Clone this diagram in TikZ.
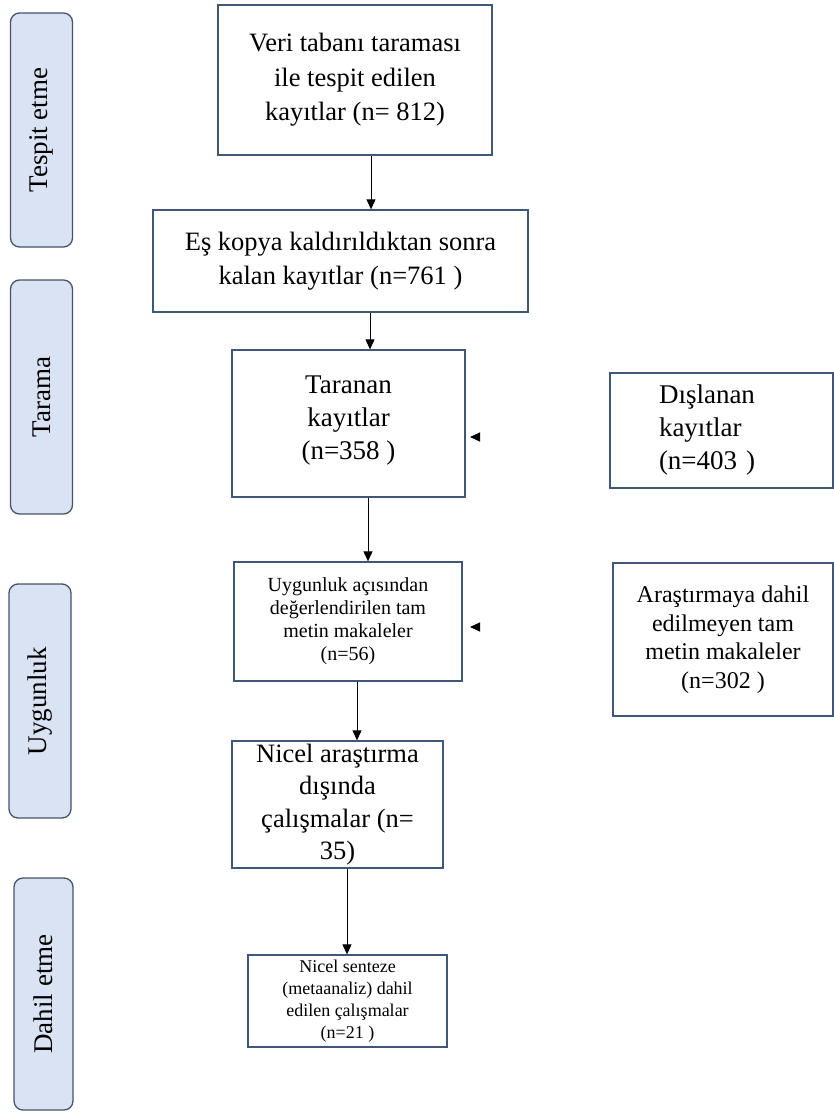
\documentclass[tikz,border=0pt]{standalone}
\usepackage{fontspec}
\setmainfont{Liberation Serif}
\usetikzlibrary{arrows.meta,positioning,calc}
\definecolor{prismaEdge}{HTML}{41577A}
\definecolor{prismaSide}{HTML}{DAE3F3}
\definecolor{prismaSideEdge}{HTML}{44546A}

\begin{document}
\begin{tikzpicture}[x=1pt,y=-1pt,
    box/.style={draw=prismaEdge,line width=1.3pt,fill=white,align=center,inner sep=1pt,
                font=\fontsize{26.5}{34.5}\selectfont},
    phase/.style={draw=prismaSideEdge,line width=1.3pt,fill=prismaSide,rounded corners=9pt,
                  rotate=90,minimum width=234pt,minimum height=62pt,
                  font=\fontsize{27}{30}\selectfont},
    arr/.style={-{Triangle[length=10pt,width=9pt]},line width=1pt,black}]
  \useasboundingbox (0,0) rectangle (834,1114);
  % phases on the left
  \node[phase] (pTespit) at (41.5,130) {Tespit etme};
  \node[phase] (pTarama) at (41.5,397) {Tarama};
  \node[phase] (pUygun)  at (40,701)   {Uygunluk};
  \node[phase,minimum width=232pt,minimum height=59pt] (pDahil) at (43.5,994) {Dahil etme};
  % main column
  \node[box,minimum width=274pt,minimum height=150pt] (veri) at (355,80)
    {Veri tabanı taraması\\ile tespit edilen\\kayıtlar (n= 812)};
  \node[box,minimum width=375pt,minimum height=102pt] (kopya) at (340.5,261)
    {Eş kopya kaldırıldıktan sonra\\kalan kayıtlar (n=761 )};
  \node[box,font=\fontsize{27}{33}\selectfont,minimum width=233pt,minimum height=147pt,
        text depth=12pt] (taranan) at (348.5,423.5) {Taranan\\kayıtlar\\(n=358 )};
  \node[box,font=\fontsize{20}{23}\selectfont,minimum width=228pt,minimum height=119pt]
    (uygun) at (348,621.5)
    {Uygunluk açısından\\değerlendirilen tam\\metin makaleler\\(n=56)};
  \node[box,font=\fontsize{26.5}{32.5}\selectfont,inner ysep=0pt,minimum width=211pt,
        minimum height=127pt] (nicel) at (337.5,804.5)
    {Nicel araştırma\\dışında\\çalışmalar (n=\\35)};
  \node[box,font=\fontsize{18}{22}\selectfont,minimum width=199pt,minimum height=92pt]
    (sentez) at (347.5,1001) {Nicel senteze\\(metaanaliz) dahil\\edilen çalışmalar\\(n=21 )};
  % excluded records
  \node[box,font=\fontsize{27}{33}\selectfont,align=left,text width=125pt,
        minimum width=223pt,minimum height=115pt] (disla) at (721.5,430.5)
    {Dışlanan\\kayıtlar\\(n=403 )};
  \node[box,font=\fontsize{24}{28.5}\selectfont,minimum width=220pt,minimum height=153pt]
    (arast) at (723,639.5) {Araştırmaya dahil\\edilmeyen tam\\metin makaleler\\(n=302 )};
  % arrows
  \draw[arr] ([xshift=16pt]veri.south) -- ([xshift=16pt]veri.south |- kopya.north);
  \draw[arr] ([xshift=29.5pt]kopya.south) -- ([xshift=29.5pt]kopya.south |- taranan.north);
  \draw[arr] ([xshift=19.5pt]taranan.south) -- ([xshift=19.5pt]taranan.south |- uygun.north);
  \draw[arr] ([xshift=9pt]uygun.south) -- ([xshift=9pt]uygun.south |- nicel.north);
  \draw[arr] ([xshift=9.5pt]nicel.south) -- ([xshift=9.5pt]nicel.south |- sentez.north);
  \coordinate (tipA) at (470,437);
  \coordinate (tipB) at (470,627);
  \draw[arr,shorten <=130pt] (tipA -| disla.west) -- (tipA);
  \draw[arr,shorten <=133pt] (tipB -| arast.west) -- (tipB);
\end{tikzpicture}
\end{document}
